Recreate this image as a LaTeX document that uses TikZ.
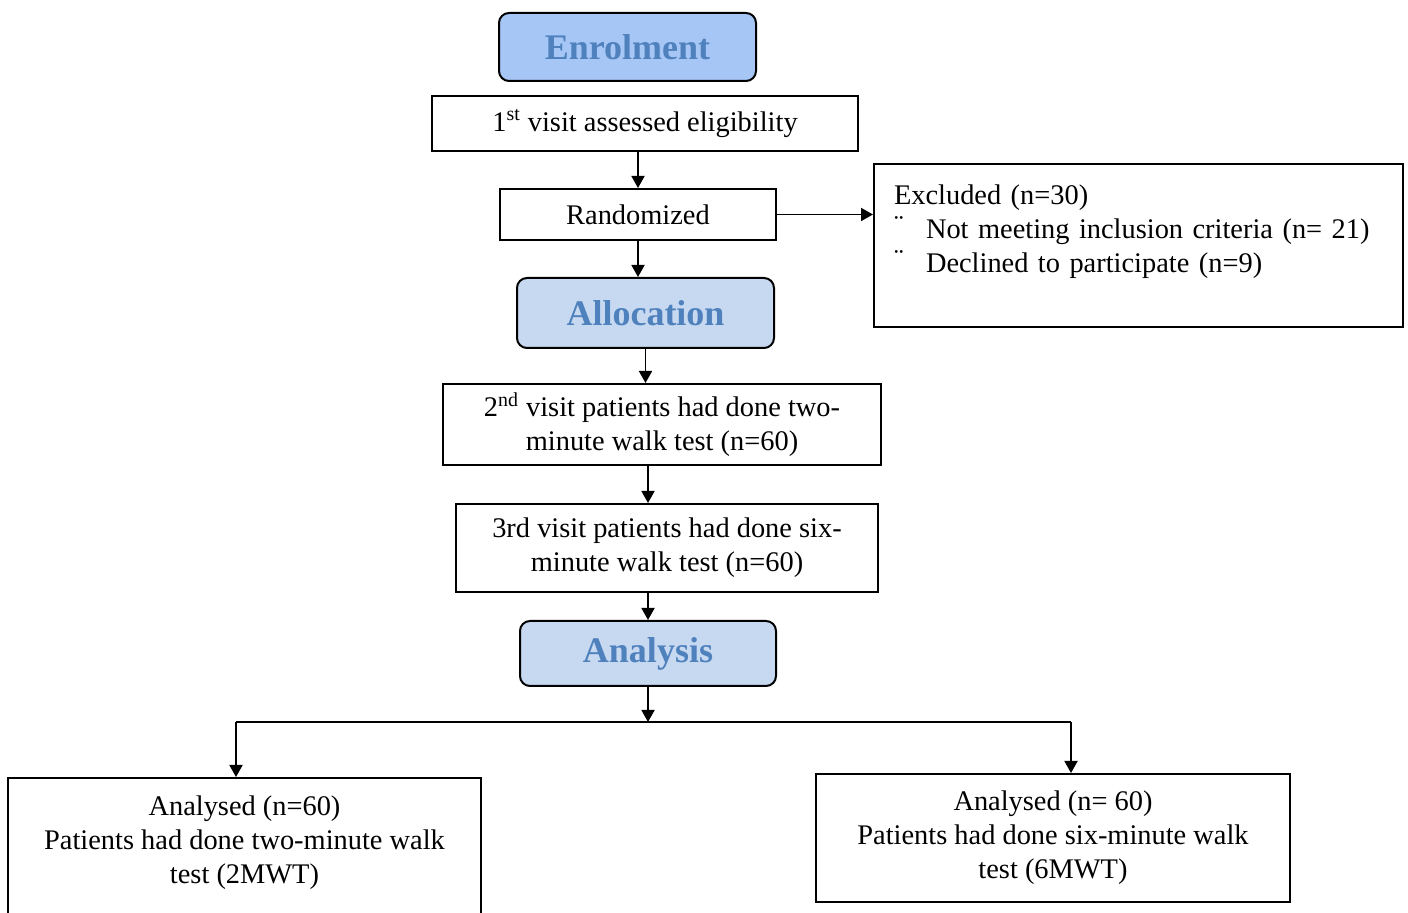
\documentclass[tikz,border=0pt]{standalone}
\usepackage{fontspec}
\setmainfont{Liberation Serif}
\usetikzlibrary{arrows.meta}
\definecolor{headblue}{RGB}{79,129,189}
\definecolor{enrolfill}{RGB}{166,198,245}
\definecolor{stagefill}{RGB}{198,217,241}
\begin{document}
\begin{tikzpicture}[x=0.5pt,y=-0.5pt,
		box/.style={draw,line width=1pt,align=center,inner sep=0pt,font=\fontsize{14.2}{17}\selectfont},
		stage/.style={draw,line width=1pt,rounded corners=5pt,fill=stagefill,text=headblue,inner sep=0pt,font=\fontsize{18}{21}\selectfont\bfseries},
		arr/.style={-{Triangle[length=6pt,width=6.5pt]},line width=0.9pt}]
		\useasboundingbox (0,0) rectangle (1408,913);
		% cac khung
		\node[stage,fill=enrolfill,minimum width=128.5pt,minimum height=34pt] (enrol) at (627.5,47) {Enrolment};
		\node[box,minimum width=213pt,minimum height=27.5pt] (visit1) at (645,123.5) {1\textsuperscript{st} visit assessed eligibility};
		\node[box,minimum width=138pt,minimum height=25.5pt] (rand) at (638,214.5) {Randomized};
		\node[box,align=left,text width=244.5pt,inner xsep=10pt,minimum height=81.5pt] (excl) at (1138.5,245.5)
			{Excluded (n=30)\\ \makebox[16pt][l]{\raisebox{2pt}{¨}}Not meeting inclusion criteria (n= 21)\\ \makebox[16pt][l]{\raisebox{2pt}{¨}}Declined to participate (n=9)\\ \mbox{}};
		\node[stage,minimum width=128.5pt,minimum height=35pt] (alloc) at (645.5,313) {Allocation};
		\node[box,minimum width=219pt,minimum height=40.5pt] (visit2) at (662,424.5) {2\textsuperscript{nd} visit patients had done two-\\minute walk test (n=60)};
		\node[box,minimum width=211pt,minimum height=44pt] (visit3) at (667,548) {3rd visit patients had done six-\\minute walk test (n=60)};
		\node[stage,minimum width=128pt,minimum height=32.5pt] (anal) at (648,653.5) {Analysis};
		\node[box,minimum width=236.5pt,minimum height=79pt] (out2) at (244.5,857) {Analysed (n=60)\\Patients had done two-minute walk\\test (2MWT)\\ \mbox{}};
		\node[box,minimum width=237pt,minimum height=64pt] (out6) at (1053,838) {Analysed (n= 60)\\Patients had done six-minute walk\\test (6MWT)};
		% mui ten
		\coordinate (split) at (648,722);
		\coordinate (left) at (236,722);
		\coordinate (right) at (1071,722);
		\draw[arr] (visit1.south -| rand.north) -- (rand.north);
		\draw[arr] (rand.east) -- (rand.east -| excl.west);
		\draw[arr] (rand.south) -- (rand.south |- alloc.north);
		\draw[arr] (alloc.south) -- (alloc.south |- visit2.north);
		\draw[arr] (visit2.south -| anal) -- (visit3.north -| anal);
		\draw[arr] (visit3.south -| anal) -- (anal.north);
		\draw[arr] (anal.south) -- (split);
		\draw[line width=0.9pt] (left) -- (right);
		\draw[arr] (left) -- (left |- out2.north);
		\draw[arr] (right) -- (right |- out6.north);
\end{tikzpicture}
\end{document}
